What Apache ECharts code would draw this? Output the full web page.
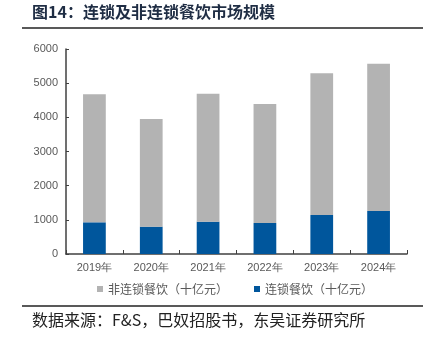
<!DOCTYPE html>
<html><head><meta charset="utf-8">
<script src="https://cdn.jsdelivr.net/npm/echarts@6/dist/echarts.min.js"></script>
<style>html,body{margin:0;padding:0;background:#fff}#c{width:433px;height:340px}</style>
</head><body><div id="c"></div>
<script>
var categories = ['2019年','2020年','2021年','2022年','2023年','2024年'];
var chainValues = [927, 800, 946, 907, 1141, 1258];
var nonChainValues = [3747, 3151, 3746, 3483, 4147, 4312];
var seriesNames = ['非连锁餐饮（十亿元）','连锁餐饮（十亿元）'];
var titleText = '图14：连锁及非连锁餐饮市场规模';
var sourceText = '数据来源：F&S，巴奴招股书，东吴证券研究所';

var chart = echarts.init(document.getElementById('c'), null, {renderer:'canvas'});
var cjk = '"Noto Sans CJK SC", sans-serif';
chart.setOption({
  animation:false,
  grid:{left:66,right:26,top:49,bottom:86},
  legend:{
    data:[seriesNames[0],seriesNames[1]],
    top:278, left:92, itemGap:26,
    icon:'rect', itemWidth:6, itemHeight:6,
    textStyle:{color:'#595959',fontSize:12,fontFamily:cjk}
  },
  xAxis:{
    type:'category', data:categories,
    axisLine:{lineStyle:{color:'#404040',width:1.5}},
    axisTick:{show:true,inside:true,length:4,lineStyle:{color:'#404040'}},
    axisLabel:{color:'#595959',fontSize:11,fontFamily:'Liberation Sans, Arial',margin:8}
  },
  yAxis:{
    type:'value', min:0, max:6000, interval:1000,
    axisLine:{show:true,lineStyle:{color:'#404040',width:1.5}},
    axisTick:{show:true,inside:true,length:3,lineStyle:{color:'#404040'}},
    splitLine:{show:false},
    axisLabel:{color:'#595959',fontSize:11,fontFamily:'Liberation Sans, Arial',margin:8,
      formatter:function(v){return String(v);}}
  },
  series:[
    {name:seriesNames[1],type:'bar',stack:'s',data:chainValues,barWidth:'40%',
     itemStyle:{color:'#00569c'}},
    {name:seriesNames[0],type:'bar',stack:'s',data:nonChainValues,barWidth:'40%',
     itemStyle:{color:'#b3b3b3'}}
  ],
  graphic:[
    {type:'text',left:32,top:4,style:{text:titleText,font:'bold 16px '+cjk,fill:'#1f2d44'}},
    {type:'line',shape:{x1:22,y1:28,x2:423,y2:28},style:{stroke:'#222',lineWidth:1.5}},
    {type:'line',shape:{x1:22,y1:306,x2:423,y2:306},style:{stroke:'#222',lineWidth:1.5}},
    {type:'text',left:32,top:312,style:{text:sourceText,font:'16px '+cjk,fill:'#222'}}
  ]
});
</script></body></html>
